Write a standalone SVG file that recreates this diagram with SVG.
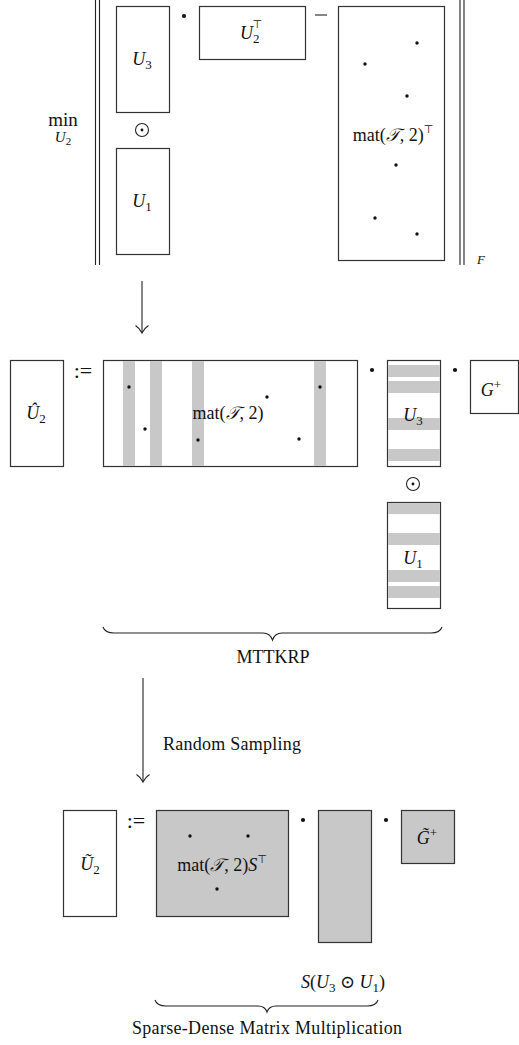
<svg xmlns="http://www.w3.org/2000/svg" width="519" height="1045" viewBox="0 0 519 1045">
<style>
.bx{fill:#fff;stroke:#333;stroke-width:1.2}
.gb{fill:#c8c8c8;stroke:#333;stroke-width:1.2}
.st{fill:#c8c8c8;stroke:none}
.ln{stroke:#222;stroke-width:1.1;fill:none}
.dot{fill:#111}
.t{font-family:"Liberation Serif","DejaVu Serif",serif;font-size:18px;fill:#111}
.m{font-family:"Liberation Serif","DejaVu Serif",serif;font-size:18px;fill:#111}
.i{font-style:italic}
.s{font-size:13px}
.sup{font-family:"DejaVu Sans",sans-serif;font-size:11px}
</style>
<defs>
<g id="odot"><circle r="6.5" fill="none" stroke="#222" stroke-width="1.1"/><circle r="1.4" fill="#111"/></g>
</defs>

<g id="connectors">
<line class="ln" x1="142" y1="281" x2="142" y2="332"/>
<path class="ln" d="M135.5,325.5 Q140,328.5 142,333 Q144,328.5 148.5,325.5"/>
<line class="ln" x1="143" y1="678" x2="143" y2="781"/>
<path class="ln" d="M136.5,774.5 Q141,777.5 143,782 Q145,777.5 149.5,774.5"/>
</g>

<g id="top-norm">
<line class="ln" x1="95.5" y1="0" x2="95.5" y2="265"/>
<line class="ln" x1="99.5" y1="0" x2="99.5" y2="265"/>
<line class="ln" x1="460" y1="0" x2="460" y2="265"/>
<line class="ln" x1="464" y1="0" x2="464" y2="265"/>
<text class="m i" x="477" y="264" style="font-size:13px">F</text>
<text class="m" x="63" y="126" text-anchor="middle" style="font-size:19px">min</text>
<text class="m i" x="63" y="142" text-anchor="middle" style="font-size:15px">U<tspan dy="3" style="font-style:normal;font-size:11px">2</tspan></text>
</g>

<g id="top-U3">
<rect class="bx" x="116.5" y="6.5" width="53" height="106"/>
<text class="m i" x="142" y="65" text-anchor="middle">U<tspan class="s" dy="4" style="font-style:normal">3</tspan></text>
</g>
<g id="top-odot"><use href="#odot" x="142" y="130"/></g>
<g id="top-U1">
<rect class="bx" x="116.5" y="148.5" width="53" height="106"/>
<text class="m i" x="142" y="207" text-anchor="middle">U<tspan class="s" dy="4" style="font-style:normal">1</tspan></text>
</g>
<g id="top-dot"><circle class="dot" cx="184" cy="16" r="2.1"/></g>
<g id="top-U2T">
<rect class="bx" x="199.5" y="6.5" width="106" height="53"/>
<text class="m i" x="251" y="39" text-anchor="middle">U<tspan class="s" dy="4" style="font-style:normal">2</tspan><tspan class="sup" dx="-7" dy="-15" style="font-style:normal">⊤</tspan></text>
</g>
<g id="top-minus"><line class="ln" x1="315" y1="15" x2="327" y2="15"/></g>
<g id="top-mat">
<rect class="bx" x="338.5" y="6.5" width="106" height="254"/>
<circle class="dot" cx="417" cy="43" r="1.7"/>
<circle class="dot" cx="365" cy="64" r="1.7"/>
<circle class="dot" cx="407" cy="96" r="1.7"/>
<circle class="dot" cx="396" cy="165" r="1.7"/>
<circle class="dot" cx="375" cy="218" r="1.7"/>
<circle class="dot" cx="417" cy="234" r="1.7"/>
<text class="m" x="393" y="141" text-anchor="middle">mat(<tspan class="i">𝒯</tspan>, 2)<tspan class="sup" dy="-8">⊤</tspan></text>
</g>

<g id="mid-U2hat">
<rect class="bx" x="10.5" y="360.5" width="53" height="106"/>
<text class="m i" x="36" y="419" text-anchor="middle">Û<tspan class="s" dy="4" style="font-style:normal">2</tspan></text>
</g>
<g id="mid-assign"><text class="m" x="83" y="378" text-anchor="middle" style="font-size:22px">:=</text></g>
<g id="mid-mat">
<rect class="bx" x="103.5" y="360.5" width="254" height="106"/>
<rect class="st" x="123" y="361.1" width="12" height="104.8"/>
<rect class="st" x="150" y="361.1" width="12" height="104.8"/>
<rect class="st" x="192" y="361.1" width="12" height="104.8"/>
<rect class="st" x="314" y="361.1" width="12" height="104.8"/>
<circle class="dot" cx="129" cy="387" r="1.7"/>
<circle class="dot" cx="145" cy="429" r="1.7"/>
<circle class="dot" cx="198" cy="440" r="1.7"/>
<circle class="dot" cx="267" cy="397" r="1.7"/>
<circle class="dot" cx="299" cy="439" r="1.7"/>
<circle class="dot" cx="320" cy="387" r="1.7"/>
<text class="m" x="228" y="419" text-anchor="middle">mat(<tspan class="i">𝒯</tspan>, 2)</text>
</g>
<g id="mid-dot1"><circle class="dot" cx="372" cy="370" r="2.1"/></g>
<g id="mid-U3">
<rect class="bx" x="387.5" y="360.5" width="53" height="106"/>
<rect class="st" x="388.1" y="365" width="51.8" height="12"/>
<rect class="st" x="388.1" y="381" width="51.8" height="12"/>
<rect class="st" x="388.1" y="418" width="51.8" height="12"/>
<rect class="st" x="388.1" y="449" width="51.8" height="12"/>
<text class="m i" x="413" y="421" text-anchor="middle">U<tspan class="s" dy="4" style="font-style:normal">3</tspan></text>
</g>
<g id="mid-dot2"><circle class="dot" cx="455" cy="370" r="2.1"/></g>
<g id="mid-G">
<rect class="bx" x="470.5" y="360.5" width="48" height="53"/>
<text class="m i" x="491" y="396" text-anchor="middle">G<tspan class="s" dy="-7" style="font-style:normal">+</tspan></text>
</g>
<g id="mid-odot"><use href="#odot" x="413" y="484"/></g>
<g id="mid-U1">
<rect class="bx" x="387.5" y="502.5" width="53" height="106"/>
<rect class="st" x="388.1" y="503.1" width="51.8" height="11"/>
<rect class="st" x="388.1" y="533" width="51.8" height="12"/>
<rect class="st" x="388.1" y="570" width="51.8" height="12"/>
<rect class="st" x="388.1" y="586" width="51.8" height="12"/>
<text class="m i" x="413" y="564" text-anchor="middle">U<tspan class="s" dy="4" style="font-style:normal">1</tspan></text>
</g>
<g id="mid-brace">
<path class="ln" d="M103,627 Q105,633 114,633 L263,633 Q270,633 272.5,640 Q275,633 282,633 L431,633 Q440,633 442,627"/>
<text class="t" x="273" y="663" text-anchor="middle">MTTKRP</text>
</g>
<g id="label-sampling"><text class="t" x="163" y="750" textLength="138" lengthAdjust="spacing">Random Sampling</text></g>

<g id="bot-U2tilde">
<rect class="bx" x="63.5" y="810.5" width="53" height="106"/>
<text class="m i" x="90" y="870" text-anchor="middle">Ũ<tspan class="s" dy="4" style="font-style:normal">2</tspan></text>
</g>
<g id="bot-assign"><text class="m" x="136" y="828" text-anchor="middle" style="font-size:22px">:=</text></g>
<g id="bot-mat">
<rect class="gb" x="156.5" y="810.5" width="132" height="106"/>
<circle class="dot" cx="190" cy="836" r="1.7"/>
<circle class="dot" cx="248" cy="836" r="1.7"/>
<circle class="dot" cx="217" cy="889" r="1.7"/>
<text class="m" x="222" y="871" text-anchor="middle">mat(<tspan class="i">𝒯</tspan>, 2)<tspan class="i">S</tspan><tspan class="sup" dy="-8">⊤</tspan></text>
</g>
<g id="bot-dot1"><circle class="dot" cx="303" cy="820" r="2.1"/></g>
<g id="bot-SU">
<rect class="gb" x="318.5" y="810.5" width="53" height="132"/>
</g>
<g id="bot-dot2"><circle class="dot" cx="386" cy="820" r="2.1"/></g>
<g id="bot-Gtilde">
<rect class="gb" x="401.5" y="810.5" width="53" height="53"/>
<text class="m i" x="427" y="844" text-anchor="middle">G̃<tspan class="s" dy="-7" style="font-style:normal">+</tspan></text>
</g>
<g id="bot-label">
<text class="m" x="343" y="988" text-anchor="middle"><tspan class="i">S</tspan>(<tspan class="i">U</tspan><tspan class="s" dy="4">3</tspan><tspan dy="-4"> ⊙ </tspan><tspan class="i">U</tspan><tspan class="s" dy="4">1</tspan><tspan dy="-4">)</tspan></text>
</g>
<g id="bot-brace">
<path class="ln" d="M155,1000 Q157,1006 166,1006 L258,1006 Q265,1006 267,1012 Q269,1006 276,1006 L367,1006 Q376,1006 378,1000"/>
<text class="t" x="267" y="1034" text-anchor="middle" textLength="270" lengthAdjust="spacing">Sparse-Dense Matrix Multiplication</text>
</g>
</svg>
